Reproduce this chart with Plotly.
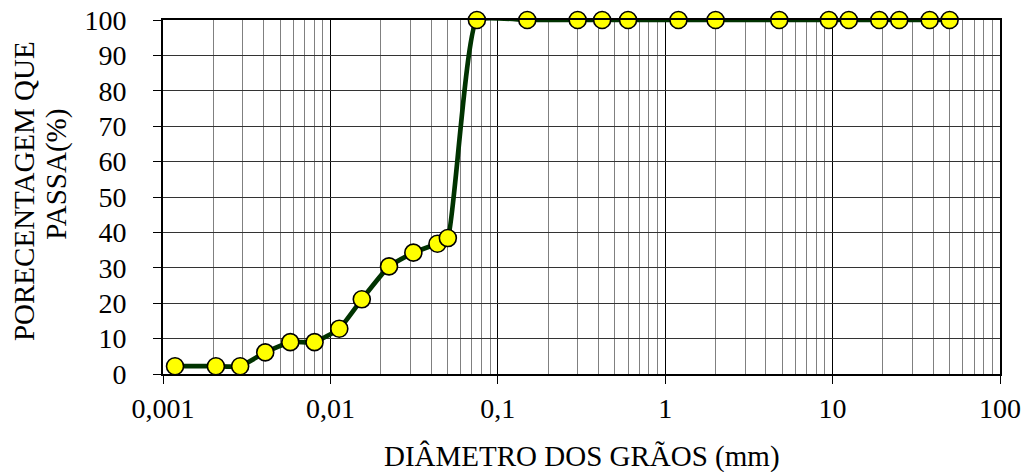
import plotly.graph_objects as go

# Grain-size distribution (granulometric curve)
diameter_mm = [0.00118, 0.00207, 0.00289, 0.00408, 0.00576, 0.00804, 0.0113,
               0.0154, 0.0224, 0.0313, 0.0436, 0.0503, 0.075, 0.15, 0.3, 0.42,
               0.6, 1.2, 2.0, 4.8, 9.5, 12.5, 19, 25, 38, 50]
percent_passing = [2.2, 2.2, 2.2, 6.1, 9.0, 9.0, 12.8, 21.1, 30.4, 34.3, 36.8,
                   38.4, 100, 100, 100, 100, 100, 100, 100, 100, 100, 100, 100,
                   100, 100, 100]

x_tick_vals = [0.001, 0.01, 0.1, 1, 10, 100]
x_tick_text = ["0,001", "0,01", "0,1", "1", "10", "100"]

x_title = "DIÂMETRO DOS GRÃOS (mm)"
y_title_lines = ["PORECENTAGEM QUE", "PASSA(%)"]

FONT = "Liberation Serif, Times New Roman, serif"

# minor log gridlines at 2..9 within each decade
minor_vals = [m * d for d in x_tick_vals[:-1] for m in range(2, 10)]

fig = go.Figure()
fig.add_trace(go.Scatter(
    x=diameter_mm, y=percent_passing, mode="lines+markers",
    line=dict(color="#003300", width=4.7, shape="spline", smoothing=0.4),
    marker=dict(size=17, color="#FFFF00", line=dict(color="#000000", width=1.6)),
    cliponaxis=False,
))

fig.update_xaxes(
    type="log", range=[-3, 2],
    tickvals=x_tick_vals, ticktext=x_tick_text,
    ticks="outside", ticklen=8, tickcolor="#000000", tickwidth=1,
    showline=True, linecolor="#000000", linewidth=2, mirror=True,
    showgrid=True, gridcolor="#000000", gridwidth=1,
    minor=dict(tickmode="array", tickvals=minor_vals, showgrid=True,
               gridcolor="#808080", gridwidth=1, ticks=""),
    tickfont=dict(family=FONT, size=28, color="#000000"),
    zeroline=False,
)
fig.update_yaxes(
    range=[0, 100], dtick=10,
    ticks="outside", ticklen=8, tickcolor="#000000", tickwidth=1,
    ticklabelstandoff=21,
    showline=True, linecolor="#000000", linewidth=2, mirror=True,
    showgrid=True, gridcolor="#333333", gridwidth=1,
    tickfont=dict(family=FONT, size=28, color="#000000"),
    zeroline=False,
)

fig.add_annotation(
    text=x_title, xref="paper", yref="paper", x=0.5, y=-0.233,
    xanchor="center", yanchor="middle", showarrow=False,
    font=dict(family=FONT, size=29, color="#000000"),
)
# two-line rotated y-axis title
for line_text, px, py in zip(y_title_lines, [-0.166, -0.127], [0.517, 0.565]):
    fig.add_annotation(
        text=line_text, xref="paper", yref="paper", x=px, y=py,
        xanchor="center", yanchor="middle", textangle=-90, showarrow=False,
        font=dict(family=FONT, size=29, color="#000000"),
    )

fig.update_layout(
    width=1023, height=472,
    margin=dict(l=163, r=23, t=20, b=98, autoexpand=False),
    plot_bgcolor="#FFFFFF", paper_bgcolor="#FFFFFF",
    showlegend=False,
)

fig.write_html("out.html")
